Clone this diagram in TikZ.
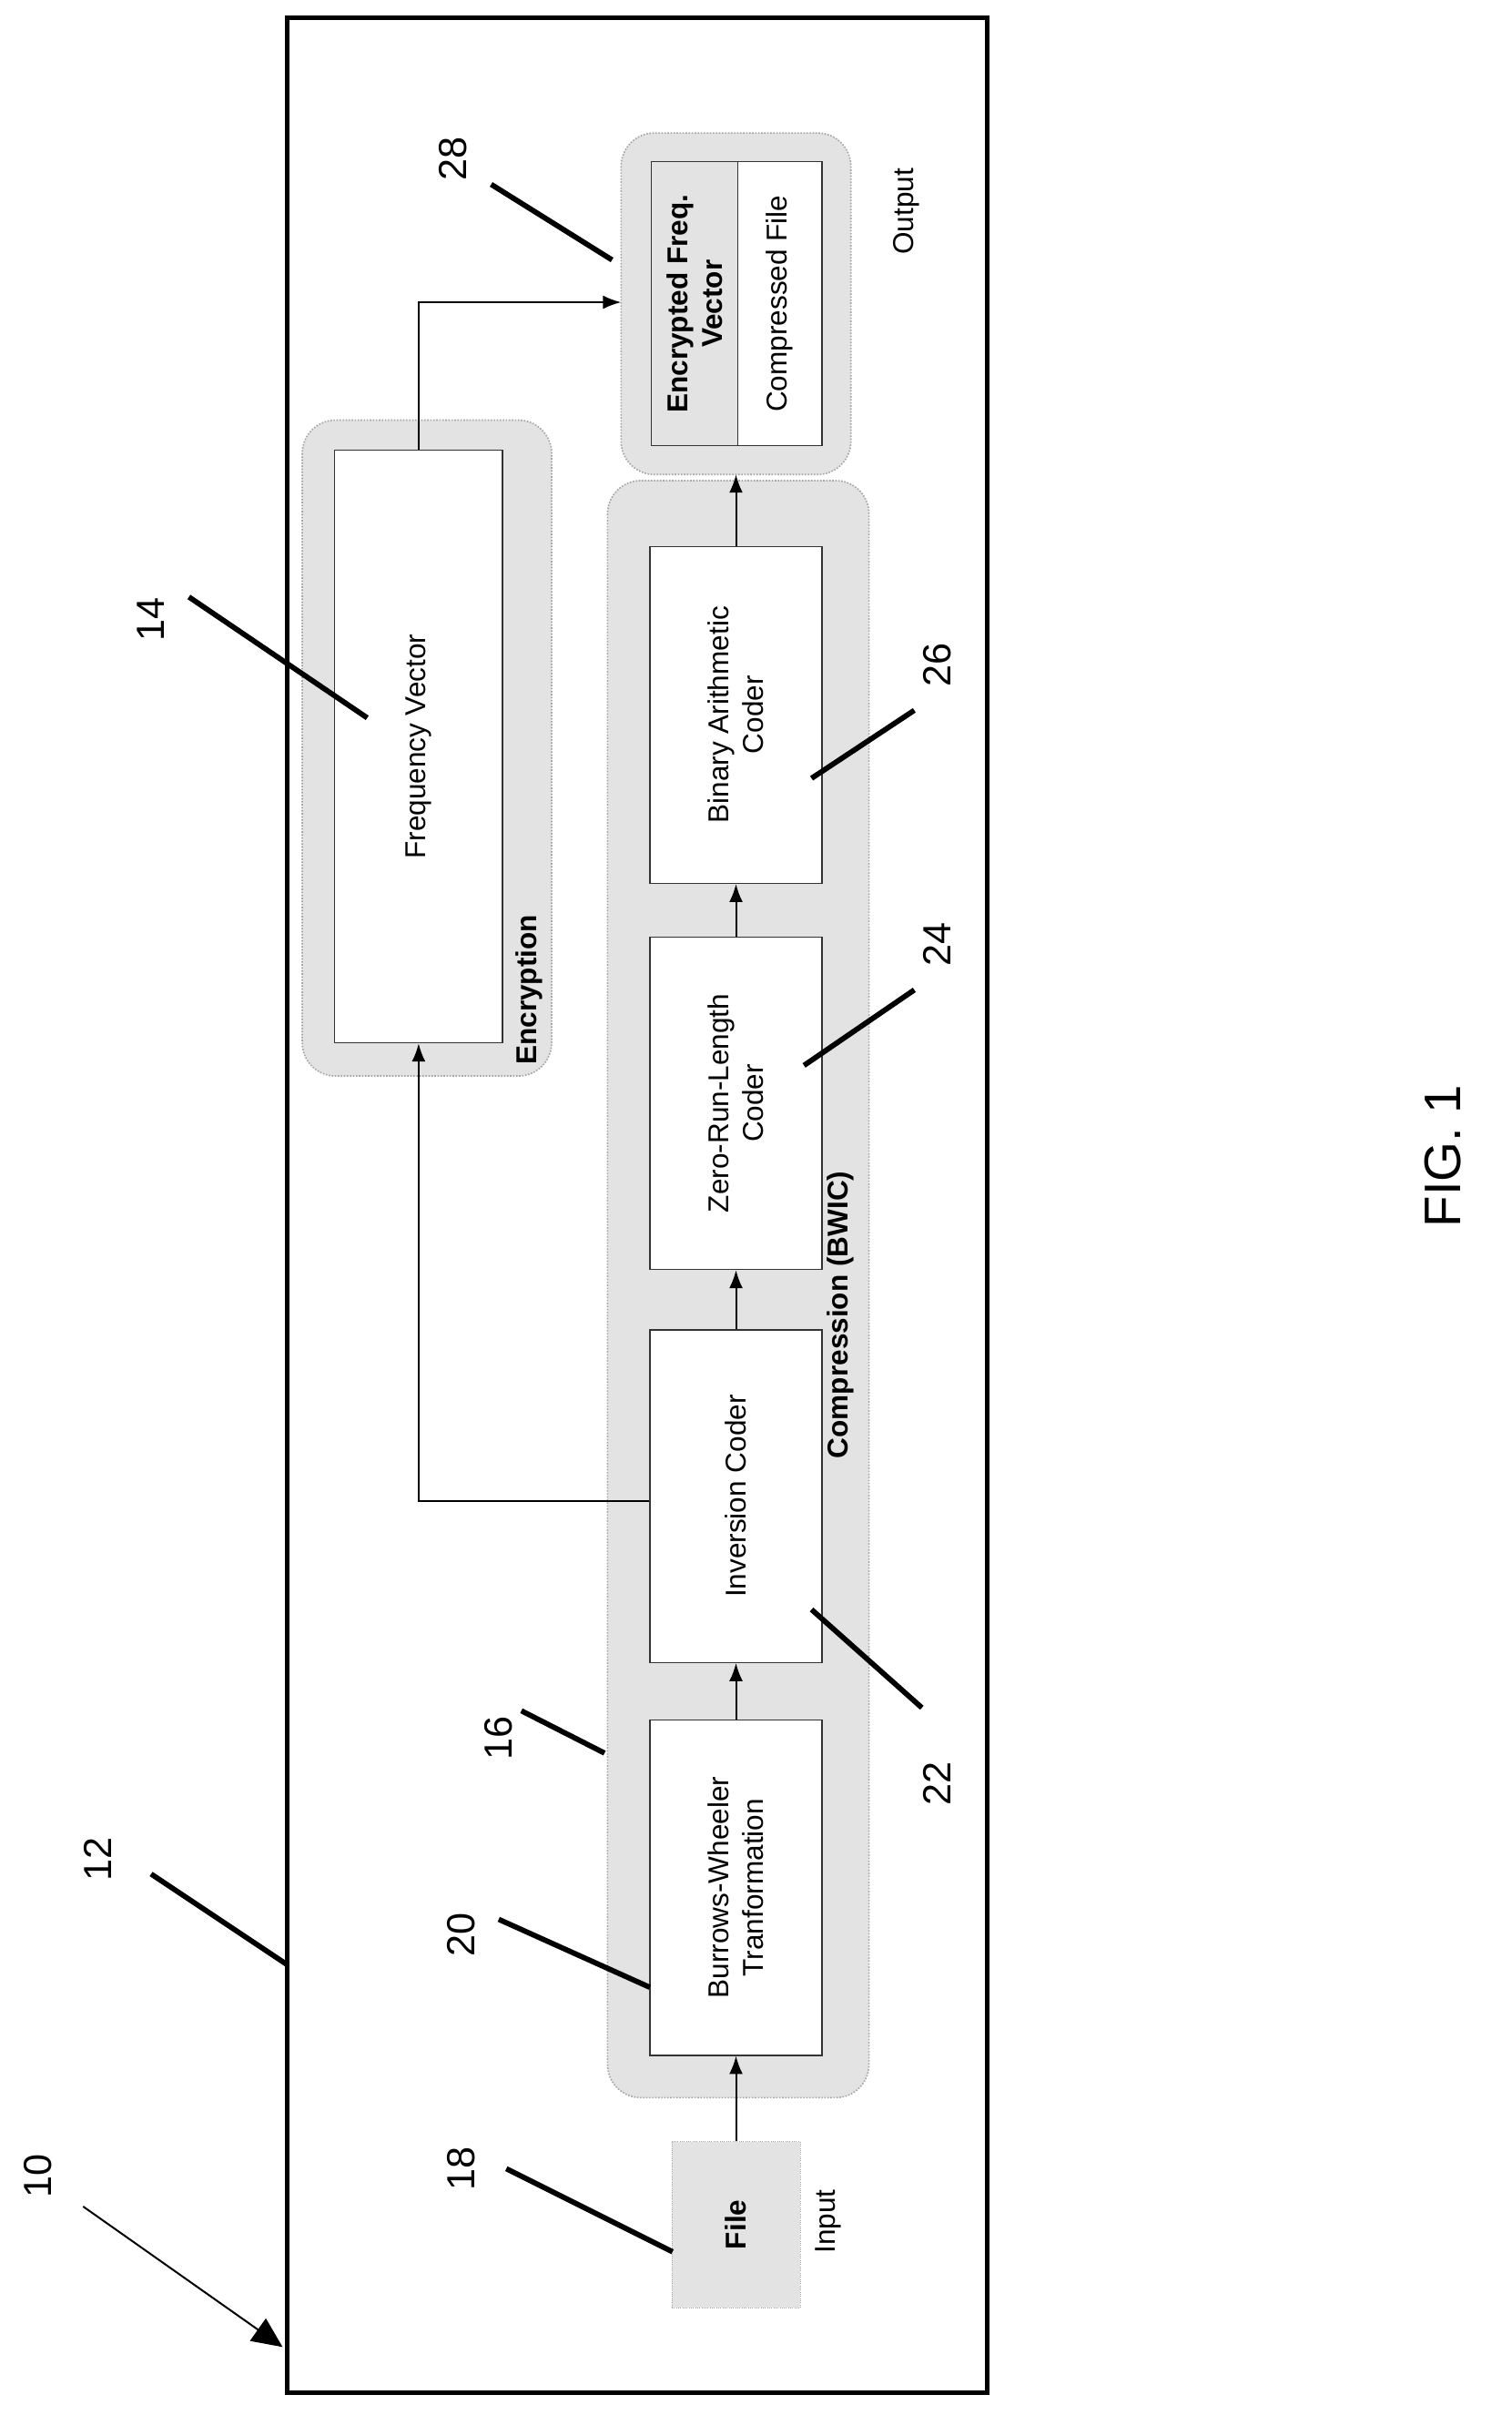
\documentclass[tikz,border=0pt]{standalone}
\usepackage{fontspec}
\setmainfont{Liberation Sans}
\usetikzlibrary{arrows.meta}
\begin{document}
\begin{tikzpicture}[x=1pt,y=-1pt,
  grp/.style={draw=gray!70,densely dotted,fill=gray!22,rounded corners=22pt,line width=1pt},
  box/.style={draw=black!80,fill=white,line width=0.8pt},
  lbl/.style={font=\fontsize{19}{23}\selectfont,rotate=90,align=center},
  blbl/.style={lbl,font=\bfseries\fontsize{19}{23}\selectfont},
  num/.style={font=\fontsize{26}{30}\selectfont,rotate=90},
  lead/.style={line width=3.5pt},
  arr/.style={-{Latex[length=12pt,width=9pt]},line width=1.2pt}]
\useasboundingbox (0,0) rectangle (1000,1598);
\draw[line width=3pt] (190,12) rectangle (653,1583);
% groups
\draw[grp] (402,318) rectangle (575,1388);
\draw[grp] (200,278) rectangle (365,712);
\draw[grp] (411,88) rectangle (563,314);
\node[blbl] (comp) at (556,870) {Compression (BWIC)};
\node[blbl] (enc) at (350,655) {Encryption};
% boxes
\node[box,minimum width=114pt,minimum height=222pt] (bwt) at (487,1249) {};
\node[lbl] at (bwt) {Burrows-Wheeler\\Tranformation};
\node[box,minimum width=114pt,minimum height=220pt] (inv) at (487,990) {};
\node[lbl] at (inv) {Inversion Coder};
\node[box,minimum width=114pt,minimum height=220pt] (zrl) at (487,730) {};
\node[lbl] at (zrl) {Zero-Run-Length\\Coder};
\node[box,minimum width=114pt,minimum height=223pt] (bac) at (487,473) {};
\node[lbl] at (bac) {Binary Arithmetic\\Coder};
\node[box,minimum width=111pt,minimum height=392pt] (fv) at (277,494) {};
\node[lbl] at (fv) {Frequency Vector};
\node[box,fill=gray!22,minimum width=57pt,minimum height=188pt] (efv) at (459.5,201) {};
\node[blbl] at (efv) {Encrypted Freq.\\Vector};
\node[box,minimum width=56pt,minimum height=188pt] (cf) at (516,201) {};
\node[lbl] at (cf) {Compressed File};
\node[draw=gray!70,densely dotted,fill=gray!22,minimum width=85pt,minimum height=110pt] (file) at (487,1472) {};
\node[blbl] at (file) {File};
\node[lbl] (inp) at (548,1470) {Input};
\node[lbl] (out) at (600,140) {Output};
\coordinate (outL) at (411,200);
\coordinate (outB) at (487,314);
% arrows
\draw[arr] (file.north) -- (bwt.south);
\draw[arr] (bwt.north) -- (inv.south);
\draw[arr] (inv.north) -- (zrl.south);
\draw[arr] (zrl.north) -- (bac.south);
\draw[arr] (bac.north) -- (outB);
\draw[arr] (inv.west |- 0,993) -| (fv.south);
\draw[arr] (fv.north) |- (outL);
% reference numerals
\node[num] (n10) at (25,1440) {10};
\draw[-{Triangle[length=20pt,width=18pt]},line width=1.2pt] (55,1460) -- (187,1553);
\node[num] (n12) at (65,1230) {12};
\draw[lead] (100,1240) -- (190,1300);
\node[num] (n18) at (305,1435) {18};
\draw[lead] (335,1435) -- (445,1490);
\node[num] (n20) at (305,1280) {20};
\draw[lead] (330,1270) -- (430,1315);
\node[num] (n16) at (330,1150) {16};
\draw[lead] (345,1132) -- (400,1160);
\node[num] (n22) at (620,1180) {22};
\draw[lead] (610,1130) -- (537,1065);
\node[num] (n24) at (620,625) {24};
\draw[lead] (605,655) -- (532,705);
\node[num] (n26) at (620,440) {26};
\draw[lead] (605,470) -- (537,515);
\node[num] (n14) at (100,410) {14};
\draw[lead] (125,395) -- (243,475);
\node[num] (n28) at (300,105) {28};
\draw[lead] (325,122) -- (405,172);
\node[rotate=90,font=\fontsize{34}{38}\selectfont] (fig) at (955,765) {FIG. 1};
\end{tikzpicture}
\end{document}
